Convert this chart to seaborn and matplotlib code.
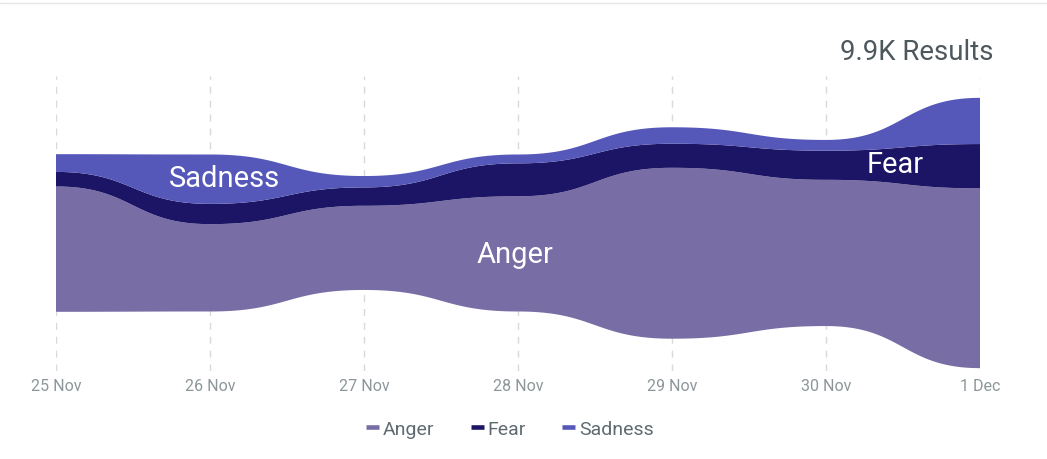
import numpy as np
import matplotlib
matplotlib.use("Agg")
import matplotlib.pyplot as plt
from matplotlib.lines import Line2D
import seaborn as sns

# ---- data ----
dates = ["25 Nov", "26 Nov", "27 Nov", "28 Nov", "29 Nov", "30 Nov", "1 Dec"]
anger = [990, 690, 665, 910, 1350, 1155, 1420]
fear = [115, 160, 145, 260, 190, 230, 350]
sadness = [140, 390, 90, 70, 130, 85, 365]
series_names = ["Anger", "Fear", "Sadness"]
total_label = "9.9K Results"

colors = {"Anger": "#786EA5", "Fear": "#1C1464", "Sadness": "#5558B9"}

sns.set_theme(style="white")
plt.rcParams["font.family"] = ["Roboto", "DejaVu Sans"]

W, H = 1047, 460
fig = plt.figure(figsize=(W / 100, H / 100), dpi=100)
ax = fig.add_axes([56 / W, (H - 372) / H, (980 - 56) / W, (372 - 77) / H])


def bump_x(x, y, n=60):
    """Cubic Bezier rendering with horizontal tangents at every point (curveBumpX)."""
    x = np.asarray(x, float)
    y = np.asarray(y, float)
    xs, ys = [], []
    t = np.linspace(0, 1, n)
    for i in range(len(y) - 1):
        x0, x1 = x[i], x[i + 1]
        y0, y1 = y[i], y[i + 1]
        xm = (x0 + x1) / 2
        bx = (1 - t) ** 3 * x0 + 3 * (1 - t) ** 2 * t * xm + 3 * (1 - t) * t ** 2 * xm + t ** 3 * x1
        by = (1 - t) ** 3 * y0 + 3 * (1 - t) ** 2 * t * y0 + 3 * (1 - t) * t ** 2 * y1 + t ** 3 * y1
        if i > 0:
            bx, by = bx[1:], by[1:]
        xs.append(bx)
        ys.append(by)
    return np.concatenate(xs), np.concatenate(ys)


xpos = np.arange(len(dates))
layers = np.array([anger, fear, sadness], float)
totals = layers.sum(axis=0)
base = -totals / 2.0  # silhouette offset
bounds = [base]
for layer in layers:
    bounds.append(bounds[-1] + layer)

for i, name in enumerate(series_names):
    xs, lo = bump_x(xpos, bounds[i])
    xs2, hi = bump_x(xpos, bounds[i + 1])
    verts_x = np.concatenate([xs, xs2[::-1]])
    verts_y = np.concatenate([lo, hi[::-1]])
    ax.fill(verts_x, verts_y, color=colors[name], lw=0, zorder=2)

ax.set_xlim(0, len(dates) - 1)
ax.set_ylim(-1090, 1240)
ax.set_xticks(xpos)
ax.set_xticklabels(dates)
ax.set_yticks([])
for xp in xpos:
    ax.axvline(xp, color="#d9d9d9", lw=1, ls=(0, (5, 5)), zorder=1)
ax.tick_params(axis="x", length=0, pad=5, labelsize=11.5, labelcolor="#8c9699")
sns.despine(ax=ax, left=True, bottom=True, top=True, right=True)
ax.set_facecolor("white")

# in-stream labels
lbl = dict(color="white", fontsize=21, fontweight="normal", ha="center", va="baseline", zorder=3)
ax.text(1.091, 370, "Sadness", **lbl)
ax.text(2.98, -231, "Anger", **lbl)
ax.text(5.45, 480, "Fear", **lbl)

# header text and top border
fig.text(993 / W, 1 - 60 / H, total_label, ha="right", va="baseline", fontsize=19.8, color="#4d585d")
fig.add_artist(Line2D([0, 1], [1 - 4 / H, 1 - 4 / H], color="#e6e6e6", lw=1))

handles = [Line2D([0], [0], color=colors[n], lw=3.3, solid_capstyle="butt") for n in series_names]
fig.legend(handles, series_names, loc="center", bbox_to_anchor=(510 / W, 1 - 430 / H), ncol=3,
           frameon=False, fontsize=14, handlelength=0.67, handletextpad=0.2, columnspacing=1.85,
           labelcolor="#5f6b70")

fig.savefig("out.png", dpi=100, facecolor="white")
